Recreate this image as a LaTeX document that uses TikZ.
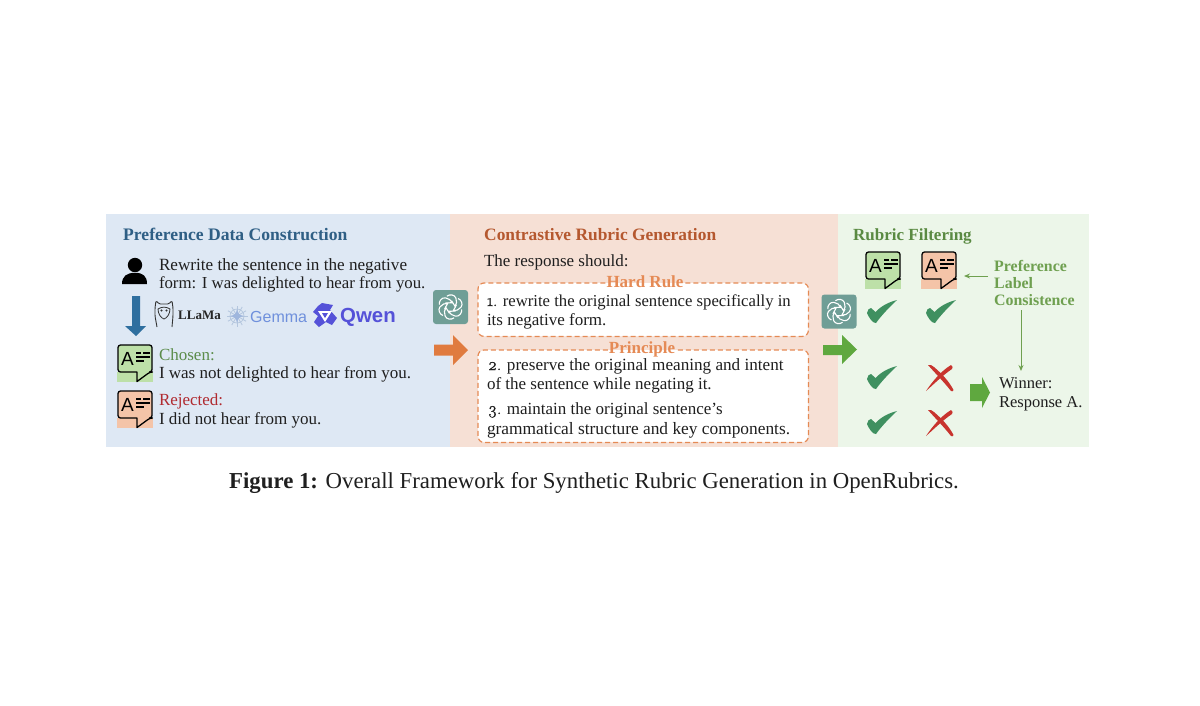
\documentclass[tikz,border=0pt]{standalone}
\usepackage{fontspec}
\setmainfont{Liberation Serif}
\newfontfamily\lsans{Liberation Sans}
\newfontfamily\oldnum[Numbers=OldStyle,FakeBold=1.2]{Latin Modern Roman}
\usetikzlibrary{calc,arrows.meta}
\definecolor{pblue}{HTML}{DEE8F4}
\definecolor{porange}{HTML}{F6E0D5}
\definecolor{pgreen}{HTML}{ECF6E9}
\definecolor{tblue}{HTML}{2F5F85}
\definecolor{torange}{HTML}{B5582F}
\definecolor{tgreen}{HTML}{5A8A42}
\definecolor{lorange}{HTML}{E58A55}
\definecolor{lgreen}{HTML}{6FA050}
\definecolor{chosen}{HTML}{5B8C4A}
\definecolor{rejected}{HTML}{B02A30}
\definecolor{teal}{HTML}{6F9E96}
\definecolor{bubg}{HTML}{BDE0A8}
\definecolor{bubo}{HTML}{F4C4A8}
\definecolor{chk}{HTML}{3F9060}
\definecolor{crs}{HTML}{C8342E}
\definecolor{arrblue}{HTML}{2F6F9F}
\definecolor{arrorange}{HTML}{E07B3F}
\definecolor{arrgreen}{HTML}{5FA83F}
\definecolor{gemcol}{HTML}{6F90DC}
\definecolor{gemlogo}{HTML}{B4C6DE}
\definecolor{qwencol}{HTML}{5552D8}
\tikzset{
  x=1pt,y=-1pt,
  txt/.style={anchor=base west,inner sep=0pt,outer sep=0pt,font=\fontsize{17}{18}\selectfont,text=black!88},
  head/.style={anchor=base west,inner sep=0pt,font=\fontsize{17.4}{18}\selectfont\bfseries},
  side/.style={anchor=base west,inner sep=0pt,font=\fontsize{15.9}{16}\selectfont\bfseries,text=lgreen},
  lab/.style={anchor=base,inner sep=1pt,font=\fontsize{17}{18}\selectfont\bfseries,text=lorange},
  panel/.style={draw=none,minimum width=0pt},
  dashbox/.style={draw=lorange,line width=1.2pt,rounded corners=6pt,dash pattern=on 5pt off 3pt},
  thinarr/.style={draw=lgreen,line width=1pt,-{Stealth[length=6pt,width=5pt]}},
}
\newcommand\bubble[4]{%
  \begin{scope}[shift={(#2,#3)}]
    \fill[#4] (0,27) rectangle (36,37);
    \draw[fill=#4,line width=1.3pt,line join=round,rounded corners=2.5pt] (1,0) -- (35,0) -- (35,27) -- (33,27) [sharp corners] -- (20,36.5) -- (20,27) [rounded corners=2.5pt] -- (1,27) -- cycle;
    \node[inner sep=0pt,font=\lsans\fontsize{19}{19}\selectfont] (#1) at (10.5,13.5) {A};
    \draw[line width=1.05pt] (19,8) -- (24,8) (26,8) -- (33,8) (19,12) -- (33,12) (19,16) -- (27,16);
  \end{scope}}
\newcommand\oai[2]{%
  \begin{scope}[shift={(#1,#2)}]
    \fill[teal] (-17.5,-17) [rounded corners=3pt] rectangle (17.5,17);
    \foreach \a in {0,60,...,300}
      \draw[white,line width=1.1pt,rotate=\a] (-3.6,-10.8) .. controls (-1,-13) and (4,-12.6) .. (5.4,-9) .. controls (6.8,-5.8) and (6,-3) .. (4.6,-.6) -- (1,-6.4);
  \end{scope}}
\newcommand\chkmark[2]{%
  \fill[chk,shift={(#1,#2)}] (0,13) .. controls (0.5,10) and (2,8) .. (4,8) -- (8.5,12) .. controls (14,6) and (22,2) .. (30,0) .. controls (21,8.5) and (14,16) .. (9,23) .. controls (6,23.5) and (2,18) .. (0,13) -- cycle;}
\newcommand\crossmark[2]{%
  \fill[crs,shift={(#1,#2)}] (0,26) .. controls (6,17) and (15,6) .. (25,0) .. controls (27,1) and (27,3) .. (26,4) .. controls (17,10) and (8,19) .. (0,26) -- cycle;
  \fill[crs,shift={(#1,#2)}] (2,0) .. controls (4,-.5) and (6,0) .. (8,2) .. controls (15,8) and (23,16) .. (27.5,25) .. controls (27.5,26) and (26,27) .. (25,26) .. controls (18,17) and (9,8) .. (2,0) -- cycle;}
\begin{document}
\begin{tikzpicture}
\useasboundingbox (0,0) rectangle (1200,705);
\fill[white] (0,0) rectangle (1200,705);
% panels
\node[panel,fill=pblue,anchor=north west,minimum width=344pt,minimum height=233pt,inner sep=0pt] (pa) at (106,214) {};
\node[panel,fill=porange,anchor=north west,minimum width=388pt,minimum height=233pt,inner sep=0pt] (pb) at (450,214) {};
\node[panel,fill=pgreen,anchor=north west,minimum width=251pt,minimum height=233pt,inner sep=0pt] (pc) at (838,214) {};
% titles
\node[head,text=tblue,font=\fontsize{17.6}{18}\selectfont\bfseries] (ta) at (123,240) {Preference Data Construction};
\node[head,text=torange] (tb) at (484,240) {Contrastive Rubric Generation};
\node[head,text=tgreen,font=\fontsize{17}{18}\selectfont\bfseries] (tc) at (853,240) {Rubric Filtering};
% left panel
\fill[black] (135,265) circle (7.2pt);
\fill[black] (122,284) .. controls (122,276) and (127,272.8) .. (135,272.8) .. controls (143,272.8) and (147,276) .. (147,284) -- cycle;
\node[txt,font=\fontsize{17.15}{18}\selectfont] (q1) at (159,270) {Rewrite the sentence in the negative};
\node[txt,font=\fontsize{16.8}{18}\selectfont] (q2) at (159,288) {form: I was delighted to hear from you.};
\fill[arrblue] (132,296) -- (140,296) -- (140,326) -- (146,326) -- (136,336) -- (125,326) -- (132,326) -- cycle;
% llama
\draw[black!80,line width=.9pt,rounded corners=1.5pt] (157,327) -- (155,316) -- (155,308) -- (156,300.5) -- (159,304) -- (169,304) -- (172,300.5) -- (173,308) -- (173,316) -- (172,327);
\draw[black!80,line width=.8pt] (158,309) .. controls (162,306.5) and (166,306.5) .. (170,309) .. controls (170,314) and (167,318) .. (164,319) .. controls (161,318) and (158,314) .. (158,309) -- cycle;
\fill[black!80] (161.5,310.5) circle (1.1pt) (166.5,310.5) circle (1.1pt);
\node[anchor=base west,inner sep=0pt,font=\fontsize{13}{14}\selectfont\bfseries,text=black!85] (llama) at (178,319) {LLaMa};
% gemma
\foreach \a in {0,30,...,330}
  \draw[gemlogo,line width=.8pt] (237,316) -- ++(\a:10.5);
\draw[gemlogo,line width=.7pt] (237,316) circle (7pt);
\fill[gemlogo!70!gemcol] (237,309) .. controls (238,314) and (239,315) .. (244,316) .. controls (239,317) and (238,318) .. (237,323) .. controls (236,318) and (235,317) .. (230,316) .. controls (235,315) and (236,314) .. (237,309) -- cycle;
\node[anchor=base west,inner sep=0pt,font=\lsans\fontsize{16}{18}\selectfont,text=gemcol] (gemma) at (250,322) {Gemma};
% qwen
\fill[qwencol,line join=round] (322,303) -- (333,305) -- (330,310) -- (337,318) -- (332,325) -- (326,322) -- (319,327) -- (314,322) -- (318,316) -- (313,312) -- (318,306) -- cycle;
\fill[white] (318,311) -- (332,311) -- (325,322) -- cycle;
\fill[qwencol] (322,313) -- (328,313) -- (325,318) -- cycle;
\node[anchor=base west,inner sep=0pt,font=\lsans\bfseries\fontsize{20.4}{22}\selectfont,text=qwencol] (qwen) at (340,322) {Qwen};
\bubble{ba}{117}{345}{bubg}
\node[txt,text=chosen] (c1) at (159,360) {Chosen:};
\node[txt] (c2) at (159,378) {I was not delighted to hear from you.};
\bubble{bb}{117}{391}{bubo}
\node[txt,text=rejected] (r1) at (159,405) {Rejected:};
\node[txt] (r2) at (159,424) {I did not hear from you.};
% middle
\oai{450.5}{307}
\fill[arrorange] (434,344.5) -- (453,344.5) -- (453,335) -- (468,350) -- (453,365) -- (453,355.5) -- (434,355.5) -- cycle;
\node[txt] (rs) at (484,266) {The response should:};
\node[fill=white,rounded corners=6pt,anchor=north west,minimum width=330pt,minimum height=53pt,inner sep=0pt] (b1) at (478,283) {};
\node[fill=white,rounded corners=6pt,anchor=north west,minimum width=330pt,minimum height=92pt,inner sep=0pt] (b2) at (478,350) {};
\node[lab] (hr) at (645,287) {Hard Rule};
\node[lab] (pr) at (642,353) {Principle};
\draw[dashbox] (hr.west |- b1.north) -- (b1.north west) -- (b1.south west) -- (b1.south east) -- (b1.north east) -- (hr.east |- b1.north);
\draw[dashbox] (pr.west |- b2.north) -- (b2.north west) -- (b2.south west) -- (b2.south east) -- (b2.north east) -- (pr.east |- b2.north);
\node[txt,font=\fontsize{16.7}{18}\selectfont] (h1) at (487,306) {{\oldnum 1.} rewrite the original sentence specifically in};
\node[txt] (h2) at (487,325) {its negative form.};
\node[txt,font=\fontsize{17.15}{18}\selectfont] (p1) at (488,370) {{\oldnum 2.} preserve the original meaning and intent};
\node[txt] (p2) at (487,389) {of the sentence while negating it.};
\node[txt] (p3) at (488,414) {{\oldnum 3.} maintain the original sentence's};
\node[txt,font=\fontsize{17.35}{18}\selectfont] (p4) at (487,434) {grammatical structure and key components.};
% right
\oai{839}{311.5}
\fill[arrgreen] (823,345) -- (842,345) -- (842,335) -- (857,349.5) -- (842,364) -- (842,355) -- (823,355) -- cycle;
\bubble{bc}{865}{252}{bubg}
\bubble{bd}{921}{252}{bubo}
\chkmark{867}{300}
\chkmark{926}{300}
\chkmark{867}{366}
\chkmark{867}{411}
\crossmark{926}{365}
\crossmark{926}{410}
\node[side] (l1) at (994,271) {Preference};
\node[side] (l2) at (994,288) {Label};
\node[side] (l3) at (994,305) {Consistence};
\node[txt,font=\fontsize{16.5}{18}\selectfont] (w1) at (999,388) {Winner:};
\node[txt,font=\fontsize{16.5}{18}\selectfont] (w2) at (999,407) {Response A.};
\coordinate (pfrom) at (988,276);
\coordinate (pto) at (964,276);
\draw[thinarr] (pfrom) -- (pto);
\coordinate (dfrom) at (1021,310);
\coordinate (dto) at (1021,371);
\draw[thinarr] (dfrom) -- (dto);
\fill[arrgreen] (970,384) -- (982,384) -- (982,377) -- (990,392.5) -- (982,408) -- (982,401) -- (970,401) -- cycle;
% caption
\node[anchor=base west,inner sep=0pt,font=\fontsize{22.8}{24}\selectfont,text=black!88] (cap) at (229,488) {\textbf{Figure 1:} Overall Framework for Synthetic Rubric Generation in OpenRubrics.};
\end{tikzpicture}
\end{document}
